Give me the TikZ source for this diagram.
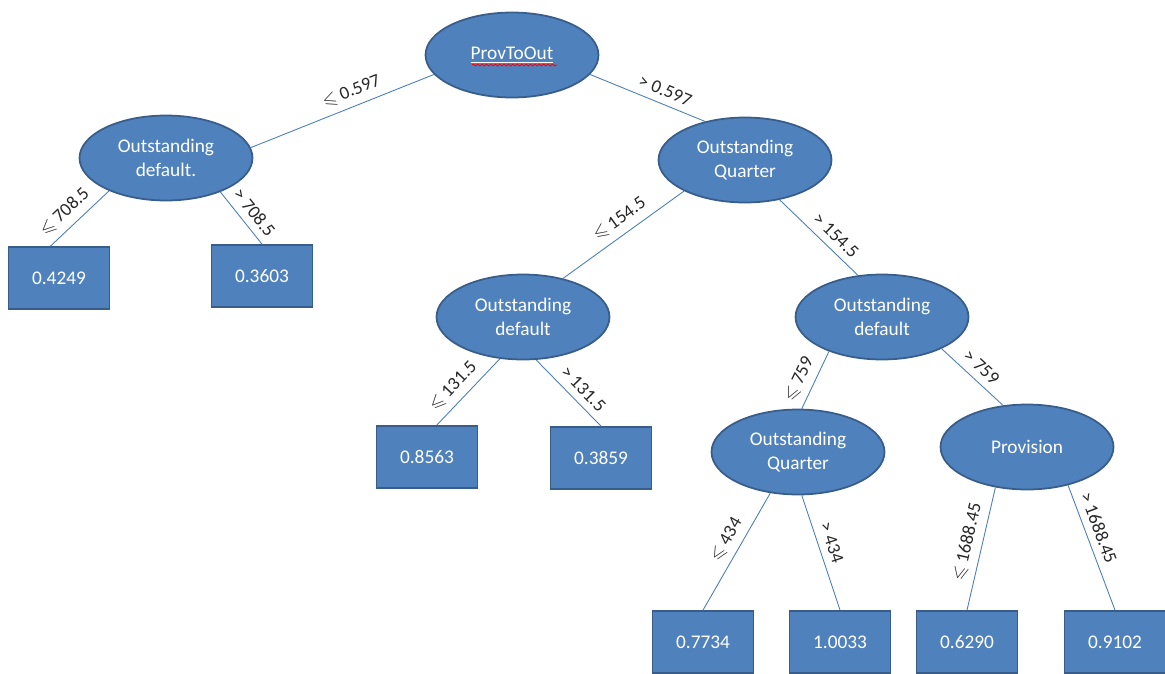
\documentclass[tikz,border=0pt]{standalone}
\usepackage{amssymb}
\usepackage{fontspec}
\setmainfont{Carlito}
\usetikzlibrary{shapes.geometric,decorations.pathmorphing}
\definecolor{nodefill}{HTML}{4F81BD}
\definecolor{nodeline}{HTML}{385D8A}
\definecolor{edgeline}{HTML}{4A7EBB}
\newcommand{\lesign}{$\leqslant$}

\begin{document}
\begin{tikzpicture}[
  x=0.02cm,y=-0.02cm,
  split/.style={ellipse,draw=nodeline,fill=nodefill,line width=1pt,text=white,
    minimum width=3.46cm,minimum height=1.7cm,inner sep=0pt,align=center,
    font=\fontsize{11}{13.5}\selectfont},
  leaf/.style={rectangle,draw=nodeline,fill=nodefill,line width=1pt,text=white,
    minimum width=2.02cm,minimum height=1.24cm,inner sep=0pt,
    font=\fontsize{11}{13.5}\selectfont},
  branch/.style={draw=edgeline,line width=0.5pt},
  threshold/.style={sloped,above=3pt,inner sep=1pt,text=black!85,
    font=\fontsize{10.5}{12}\selectfont}
]
\useasboundingbox (0,0) rectangle (1165,673);

% split nodes
\node[split] (root) at (512,55) {\underline{ProvToOut}};
\node[split] (od1) at (166,158) {Outstanding\\default.};
\node[split] (oq1) at (745,160) {Outstanding\\Quarter};
\node[split] (od2) at (523,317) {Outstanding\\default};
\node[split] (od3) at (882,317) {Outstanding\\default};
\node[split] (oq2) at (798,452) {Outstanding\\Quarter};
\node[split] (prov) at (1027,447) {Provision};

% leaves
\node[leaf] (v1) at (59,278) {0.4249};
\node[leaf] (v2) at (262,276) {0.3603};
\node[leaf] (v3) at (427,457) {0.8563};
\node[leaf] (v4) at (601,458) {0.3859};
\node[leaf] (v5) at (703,642) {0.7734};
\node[leaf] (v6) at (840,642) {1.0033};
\node[leaf] (v7) at (967,642) {0.6290};
\node[leaf] (v8) at (1115,642) {0.9102};

% spell-check mark
\draw[red,line width=0.5pt,decorate,decoration={snake,amplitude=0.5pt,segment length=2.5pt}]
  (472,65) -- (557,65);

% branches
\draw[branch] (root.194) -- (od1.7) node[threshold,pos=.42] {\lesign{} 0.597};
\draw[branch] (root.346) -- (oq1.136) node[threshold,pos=.61] {> 0.597};
\draw[branch] (od1.210) -- (v1.105) node[threshold,pos=.58] {\lesign{} 708.5};
\draw[branch] (od1.328) -- (v2.north) node[threshold,pos=.56] {> 708.5};
\draw[branch] (oq1.207) -- (od2.44) node[threshold,pos=.46] {\lesign{} 154.5};
\draw[branch] (oq1.311) -- (od3.120) node[threshold,pos=.6] {> 154.5};
\draw[branch] (od2.241) -- (v3.73) node[threshold,pos=.57] {\lesign{} 131.5};
\draw[branch] (od2.287) -- (v4.north) node[threshold,pos=.58] {> 131.5};
\draw[branch] (od3.213) -- (oq2.85) node[threshold,pos=.6] {\lesign{} 759};
\draw[branch] (od3.332) -- (prov.120) node[threshold,pos=.5] {> 759};
\draw[branch] (oq2.236) -- (v5.north) node[threshold,pos=.46] {\lesign{} 434};
\draw[branch] (oq2.275) -- (v6.north) node[threshold,pos=.45] {> 434};
\draw[branch] (prov.232) -- (v7.north) node[threshold,pos=.47] {\lesign{} 1688.45};
\draw[branch] (prov.317) -- (v8.north) node[threshold,pos=.38] {> 1688.45};
\end{tikzpicture}
\end{document}
